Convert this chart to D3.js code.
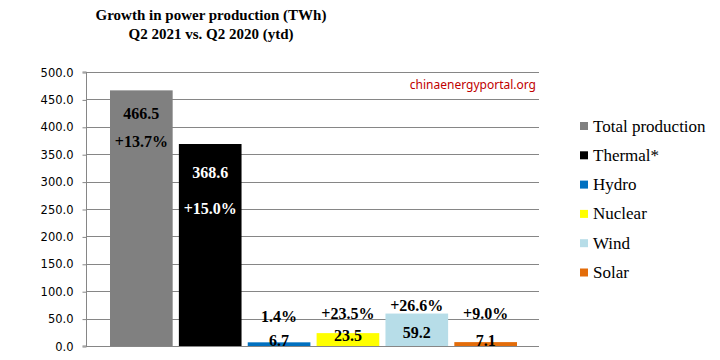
<!DOCTYPE html>
<html><head><meta charset="utf-8">
<script src="https://cdn.jsdelivr.net/npm/d3@7"></script>
<style>body{margin:0;background:#fff}svg{display:block}</style>
</head><body>
<svg id="c" width="720" height="360"></svg>
<script>
const series = ["Total production","Thermal*","Hydro","Nuclear","Wind","Solar"];
const values = [466.5, 368.6, 6.7, 23.5, 59.2, 7.1];
const growth = ["+13.7%","+15.0%","1.4%","+23.5%","+26.6%","+9.0%"];
const colors = ["#808080","#000000","#0070c0","#ffff00","#b7dde8","#e36c09"];
const yTicks = [0,50,100,150,200,250,300,350,400,450,500];
const titleLines = ["Growth in power production (TWh)","Q2 2021 vs. Q2 2020 (ytd)"];
const source = "chinaenergyportal.org";

// label placement (pixels relative to bar top) – layout only
const valOff = [23, 28, -2, 2, 19, -2];
const pctOff = [51, 64, -26, -20, -8, -29];
const valColor = ["#000","#fff","#000","#000","#000","#000"];

const svg = d3.select("#c");
const plot = {left:86, right:539, top:72, bottom:346};
const y = d3.scaleLinear().domain([0,500]).range([plot.bottom, plot.top]);
const x = d3.scaleBand().domain(series).range([110, 517]).paddingInner(0.09).paddingOuter(0);

// gridlines
svg.append("g").selectAll("line").data(yTicks.filter(d=>d>0)).join("line")
  .attr("x1", plot.left).attr("x2", plot.right)
  .attr("y1", d=>Math.round(y(d))+0.5).attr("y2", d=>Math.round(y(d))+0.5)
  .attr("stroke","#868686").attr("stroke-width",1);

// y axis
const yAxis = d3.axisLeft(y).tickValues(yTicks).tickFormat(d3.format(".1f")).tickSize(4).tickPadding(9);
const ga = svg.append("g").attr("transform",`translate(${plot.left+0.5},0.5)`).call(yAxis);
ga.select(".domain").attr("stroke","#868686").attr("d",`M-4,${plot.top-0.5}H0V${plot.bottom-0.5}H-4`);
ga.selectAll(".tick line").attr("stroke","#868686");
ga.selectAll(".tick text").attr("font-family","'DejaVu Sans', Verdana, sans-serif").attr("font-size","11.5px").attr("fill","#000");

// bars
svg.append("g").selectAll("rect").data(series).join("rect")
  .attr("x", d=>x(d)).attr("width", x.bandwidth())
  .attr("y", (d,i)=>y(values[i])).attr("height", (d,i)=>y(0)-y(values[i]))
  .attr("fill", (d,i)=>colors[i]);

// baseline
svg.append("line").attr("x1",plot.left).attr("x2",plot.right)
  .attr("y1",plot.bottom+0.5).attr("y2",plot.bottom+0.5).attr("stroke","#868686");

// labels
const lf = "'Liberation Serif', 'DejaVu Serif', serif";
svg.append("g").selectAll("text").data(series).join("text")
  .attr("x", d=>x(d)+x.bandwidth()/2)
  .attr("y", (d,i)=>y(values[i])+valOff[i])
  .attr("text-anchor","middle").attr("dominant-baseline","central")
  .attr("font-family",lf).attr("font-weight","bold").attr("font-size","16px")
  .attr("fill",(d,i)=>valColor[i])
  .text((d,i)=>d3.format(".1f")(values[i]));
svg.append("g").selectAll("text").data(series).join("text")
  .attr("x", d=>x(d)+x.bandwidth()/2)
  .attr("y", (d,i)=>y(values[i])+pctOff[i])
  .attr("text-anchor","middle").attr("dominant-baseline","central")
  .attr("font-family",lf).attr("font-weight","bold").attr("font-size","16px")
  .attr("fill",(d,i)=>valColor[i])
  .text((d,i)=>growth[i]);

// title
svg.append("g").selectAll("text").data(titleLines).join("text")
  .attr("x",211).attr("y",(d,i)=>20+i*18.5).attr("text-anchor","middle")
  .attr("font-family",lf).attr("font-weight","bold").attr("font-size","15px")
  .attr("fill","#000").text(d=>d);

// source
svg.append("text").attr("x",536).attr("y",89).attr("text-anchor","end")
  .attr("font-family","'Noto Sans', 'Liberation Sans', sans-serif").attr("font-size","12px")
  .attr("fill","#c00000").text(source);

// legend
const lg = svg.append("g").selectAll("g").data(series).join("g")
  .attr("transform",(d,i)=>`translate(580,${126+i*29.3})`);
lg.append("rect").attr("x",0).attr("y",-4).attr("width",8).attr("height",8).attr("fill",(d,i)=>colors[i]);
lg.append("text").attr("x",13).attr("y",0).attr("dominant-baseline","central")
  .attr("font-family",lf).attr("font-size","17px").attr("fill","#000").text(d=>d);
</script>
</body></html>
